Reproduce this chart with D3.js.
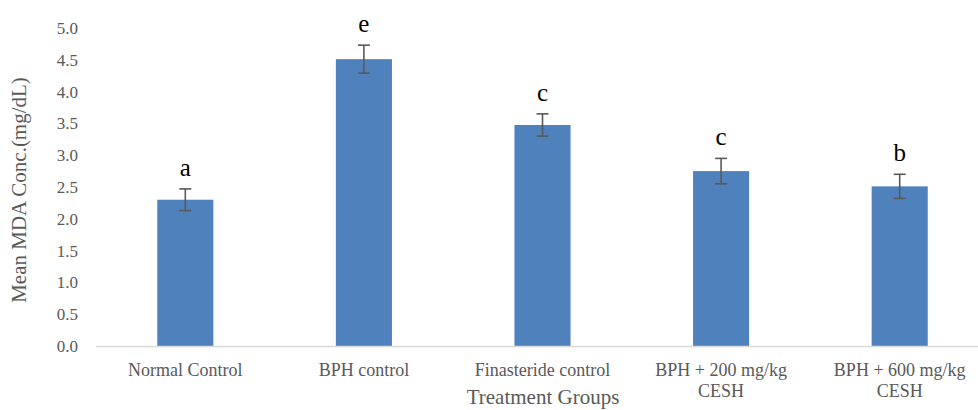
<!DOCTYPE html>
<html><head><meta charset="utf-8">
<script src="https://cdn.jsdelivr.net/npm/d3@7"></script>
<style>body{margin:0;background:#fff}svg{display:block}</style>
</head><body>
<script>
const categories = ["Normal Control", "BPH control", "Finasteride control", "BPH + 200 mg/kg CESH", "BPH + 600 mg/kg CESH"];
const categoryLines = [["Normal Control"], ["BPH control"], ["Finasteride control"], ["BPH + 200 mg/kg", "CESH"], ["BPH + 600 mg/kg", "CESH"]];
const means = [2.30, 4.51, 3.475, 2.75, 2.51];
const errors = [0.17, 0.22, 0.175, 0.20, 0.19];
const letters = ["a", "e", "c", "c", "b"];
const yTicks = [0, 0.5, 1, 1.5, 2, 2.5, 3, 3.5, 4, 4.5, 5];

const W = 978, H = 410;
const font = "'Liberation Serif', serif";
const svg = d3.select("body").append("svg").attr("width", W).attr("height", H);

const x = d3.scaleBand().domain(categories).range([96, 989]).paddingInner(0.686).paddingOuter(0.343);
const y = d3.scaleLinear().domain([0, 5]).range([346, 28]);

// y axis labels
const yAxis = svg.append("g").attr("transform", "translate(78,0)")
  .call(d3.axisLeft(y).tickValues(yTicks).tickFormat(d3.format(".1f")).tickSize(0).tickPadding(0));
yAxis.select(".domain").remove();
yAxis.selectAll("text").attr("font-family", font).attr("font-size", 17).attr("fill", "#595959");

// bars
svg.append("g").selectAll("rect").data(categories).join("rect")
  .attr("x", d => x(d)).attr("width", x.bandwidth())
  .attr("y", (d, i) => y(means[i])).attr("height", (d, i) => y(0) - y(means[i]))
  .attr("fill", "#4f81bd");

// x axis line
svg.append("line").attr("x1", 96).attr("x2", 978).attr("y1", y(0) + 0.5).attr("y2", y(0) + 0.5)
  .attr("stroke", "#d9d9d9").attr("stroke-width", 1.5);

// error bars
const eg = svg.append("g").attr("stroke", "#595959").attr("stroke-width", 1.6);
categories.forEach((c, i) => {
  const cx = x(c) + x.bandwidth() / 2;
  const t = y(means[i] + errors[i]), b = y(means[i] - errors[i]);
  eg.append("line").attr("x1", cx).attr("x2", cx).attr("y1", t).attr("y2", b);
  eg.append("line").attr("x1", cx - 6).attr("x2", cx + 6).attr("y1", t).attr("y2", t);
  eg.append("line").attr("x1", cx - 6).attr("x2", cx + 6).attr("y1", b).attr("y2", b);
});

// significance letters
svg.append("g").selectAll("text").data(categories).join("text")
  .attr("x", d => x(d) + x.bandwidth() / 2)
  .attr("y", (d, i) => y(means[i] + errors[i]) - 13)
  .attr("text-anchor", "middle").attr("font-family", font).attr("font-size", 25).attr("fill", "#000")
  .text((d, i) => letters[i]);

// x category labels
const xl = svg.append("g");
categories.forEach((c, i) => {
  const t = xl.append("text").attr("x", x(c) + x.bandwidth() / 2).attr("y", 376)
    .attr("text-anchor", "middle").attr("font-family", font).attr("font-size", 18).attr("fill", "#595959");
  categoryLines[i].forEach((ln, j) => {
    t.append("tspan").attr("x", x(c) + x.bandwidth() / 2).attr("dy", j === 0 ? 0 : 20.5).text(ln);
  });
});

// axis titles
svg.append("text").attr("x", 543).attr("y", 404).attr("text-anchor", "middle")
  .attr("font-family", font).attr("font-size", 21).attr("fill", "#595959").text("Treatment Groups");
svg.append("text").attr("transform", "translate(26,190) rotate(-90)").attr("text-anchor", "middle")
  .attr("font-family", font).attr("font-size", 21).attr("fill", "#595959").text("Mean MDA Conc.(mg/dL)");
</script>
</body></html>
